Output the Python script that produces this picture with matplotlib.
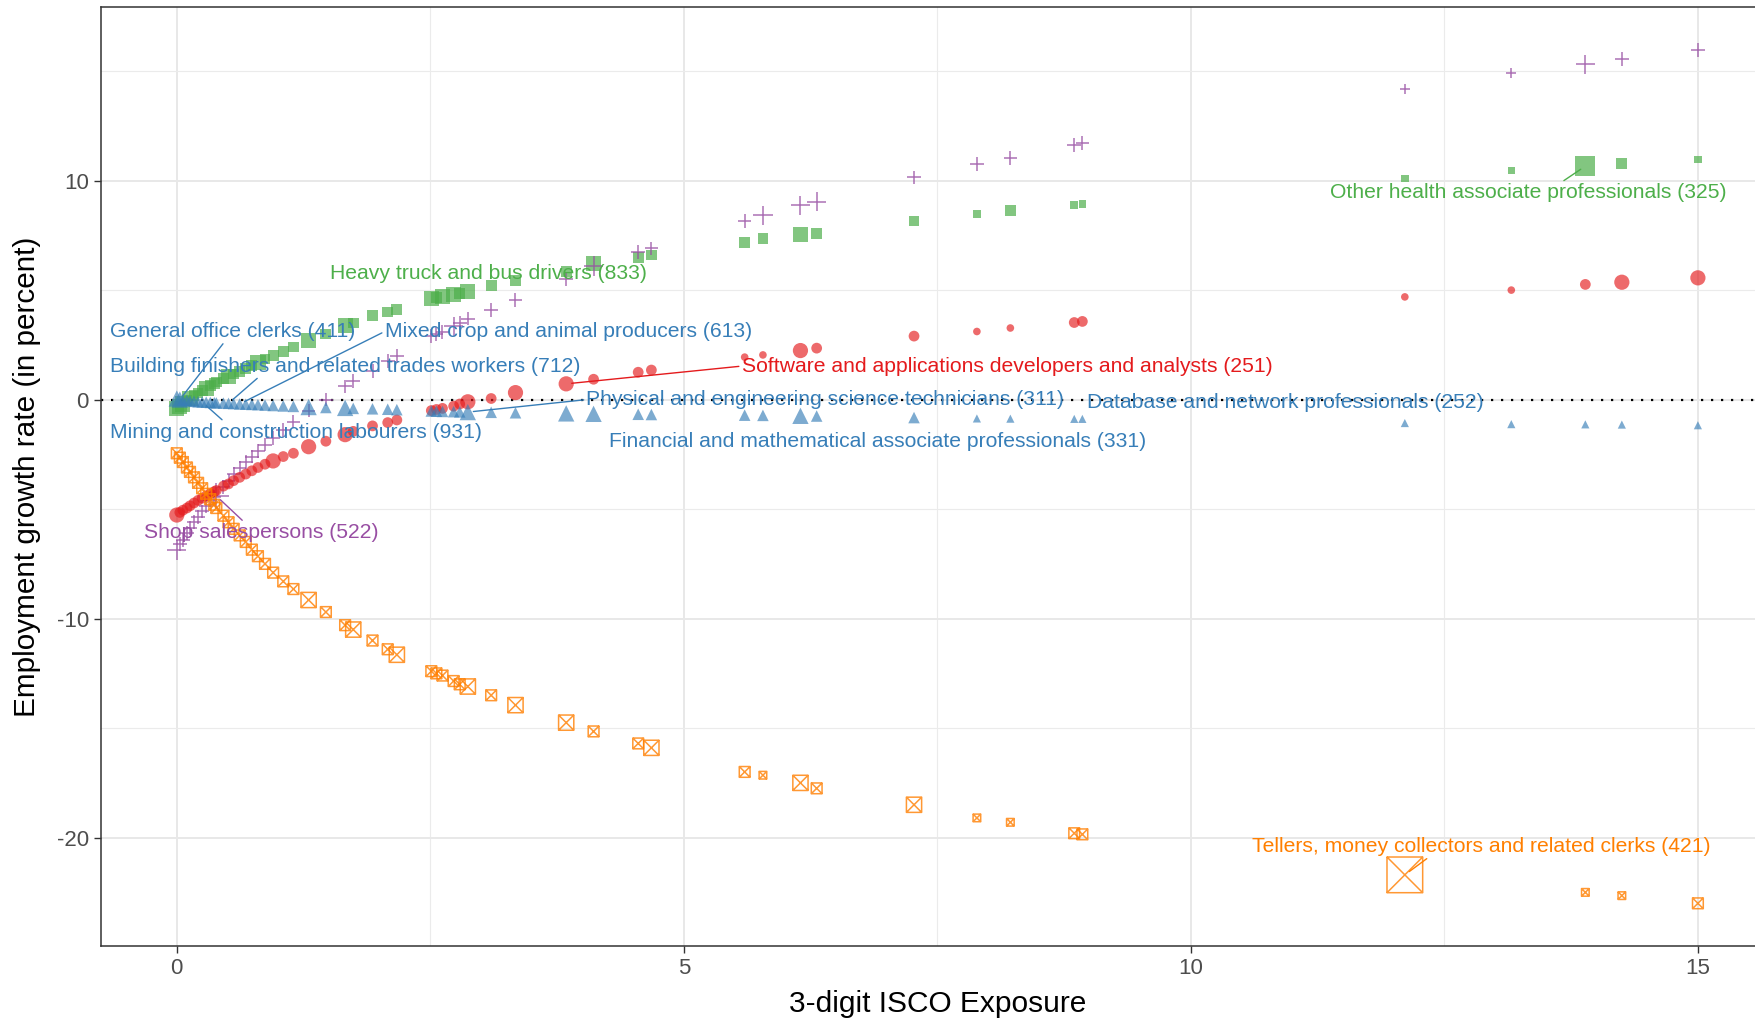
import numpy as np
import matplotlib
matplotlib.use("Agg")
import matplotlib.pyplot as plt
from matplotlib.path import Path
from matplotlib.ticker import MultipleLocator

plt.rcParams["font.family"] = ["Liberation Sans", "DejaVu Sans"]
plt.rcParams["axes.unicode_minus"] = False

GREEN = "#4DAF4A"
PURPLE = "#984EA3"
RED = "#E41A1C"
BLUE = "#377EB8"
ORANGE = "#FF7F00"

# --- data: occupation exposure (shared) and growth per scenario ---
exposure = [0.0, 0.03, 0.06, 0.1, 0.13, 0.17, 0.21, 0.25, 0.29, 0.33, 0.37, 0.39,
            0.46, 0.51, 0.56, 0.62, 0.68, 0.74, 0.8, 0.87, 0.95, 1.05, 1.15, 1.30,
            1.47, 1.66, 1.74, 1.93, 2.08, 2.17, 2.51, 2.56, 2.62, 2.73, 2.79, 2.87,
            3.10, 3.34, 3.84, 4.11, 4.55, 4.68, 5.60, 5.78, 6.15, 6.31, 7.27, 7.89,
            8.22, 8.85, 8.93, 12.11, 13.16, 13.89, 14.25, 15.0]

growth_green = [-0.4, -0.3, -0.2, -0.05, 0.05, 0.2, 0.3, 0.42, 0.52, 0.65, 0.75, 0.8,
                0.97, 1.07, 1.17, 1.3, 1.43, 1.55, 1.68, 1.85, 2.0, 2.2, 2.4, 2.7,
                3.0, 3.4, 3.5, 3.85, 4.0, 4.1, 4.6, 4.65, 4.7, 4.8, 4.85, 4.93,
                5.2, 5.45, 5.85, 6.2, 6.5, 6.6, 7.19, 7.35, 7.55, 7.6, 8.16, 8.47,
                8.62, 8.88, 8.93, 10.1, 10.46, 10.66, 10.77, 10.97]
growth_purple = [-6.87, -6.6, -6.4, -6.1, -5.85, -5.6, -5.35, -5.1, -4.85, -4.6, -4.45, -4.4,
                 -4.0, -3.7, -3.4, -3.1, -2.85, -2.6, -2.35, -2.05, -1.75, -1.4, -1.0, -0.5,
                 0.0, 0.6, 0.85, 1.3, 1.75, 2.0, 2.9, 3.0, 3.1, 3.35, 3.5, 3.7,
                 4.1, 4.55, 5.5, 6.1, 6.75, 6.9, 8.16, 8.42, 8.88, 9.03, 10.15, 10.77,
                 11.02, 11.63, 11.73, 14.18, 14.9, 15.31, 15.56, 15.97]
growth_red = [-5.27, -5.15, -5.05, -4.95, -4.85, -4.72, -4.6, -4.5, -4.4, -4.3, -4.2, -4.15,
              -3.95, -3.85, -3.7, -3.55, -3.4, -3.25, -3.1, -2.95, -2.8, -2.6, -2.45, -2.15,
              -1.9, -1.6, -1.45, -1.2, -1.05, -0.93, -0.5, -0.45, -0.4, -0.3, -0.2, -0.1,
              0.05, 0.32, 0.72, 0.93, 1.25, 1.35, 1.94, 2.04, 2.24, 2.35, 2.9, 3.11,
              3.27, 3.52, 3.57, 4.69, 5.0, 5.26, 5.36, 5.56]
growth_blue = [0.05, 0.0, -0.02, -0.04, -0.06, -0.08, -0.1, -0.11, -0.12, -0.13, -0.14, -0.15,
               -0.16, -0.17, -0.18, -0.2, -0.21, -0.22, -0.23, -0.25, -0.27, -0.29, -0.31, -0.34,
               -0.36, -0.38, -0.4, -0.42, -0.44, -0.46, -0.52, -0.53, -0.54, -0.55, -0.56, -0.57,
               -0.58, -0.6, -0.63, -0.65, -0.67, -0.68, -0.71, -0.72, -0.74, -0.75, -0.82, -0.86,
               -0.87, -0.88, -0.88, -1.07, -1.12, -1.13, -1.14, -1.17]
growth_orange = [-2.45, -2.65, -2.85, -3.1, -3.3, -3.55, -3.8, -4.05, -4.3, -4.55, -4.8, -4.95,
                 -5.3, -5.6, -5.9, -6.2, -6.5, -6.85, -7.15, -7.5, -7.9, -8.3, -8.65, -9.15,
                 -9.7, -10.3, -10.5, -11.0, -11.4, -11.65, -12.4, -12.5, -12.6, -12.85, -13.0, -13.1,
                 -13.5, -13.95, -14.75, -15.15, -15.7, -15.9, -17.0, -17.15, -17.5, -17.75, -18.5, -19.1,
                 -19.3, -19.8, -19.85, -21.7, np.nan, -22.5, -22.65, -23.0]

# employment weights (mapped to marker area)
weight_green = [4, 4, 4, 2, 4, 2, 2, 2, 4, 2, 2, 2, 2, 4, 2, 2, 2, 2, 4, 2, 2, 2, 2, 4,
                2, 4, 2, 2, 2, 2, 4, 2, 4, 4, 2, 4, 2, 2, 2, 4, 2, 2, 2, 2, 4, 2,
                2, 1, 2, 1, 1, 1, 1, 7, 2, 1]
weight_purple = [4, 2, 2, 2, 2, 2, 2, 2, 2, 2, 2, 7, 2, 2, 2, 2, 2, 2, 2, 2, 2, 2, 2, 2,
                 2, 2, 2, 2, 2, 2, 2, 2, 2, 4, 2, 2, 2, 2, 2, 4, 2, 2, 2, 4, 4, 4,
                 2, 2, 2, 2, 2, 1, 1, 4, 2, 2]
weight_red = [4, 2, 2, 2, 2, 2, 2, 2, 2, 2, 2, 2, 2, 2, 2, 2, 2, 2, 2, 2, 4, 2, 2, 4,
              2, 4, 2, 2, 2, 2, 2, 2, 2, 2, 2, 4, 2, 4, 4, 2, 2, 2, 1, 1, 4, 2,
              2, 1, 1, 2, 2, 1, 1, 2, 4, 4]
weight_blue = [4, 4, 2, 2, 2, 2, 2, 2, 2, 2, 2, 2, 2, 2, 2, 2, 2, 2, 2, 2, 2, 2, 2, 4,
               2, 4, 2, 2, 2, 2, 2, 2, 2, 2, 2, 4, 2, 2, 4, 4, 2, 2, 2, 2, 4, 2,
               2, 1, 1, 1, 1, 1, 1, 1, 1, 1]
weight_orange = [2, 2, 2, 2, 2, 2, 2, 2, 2, 2, 2, 2, 2, 2, 2, 2, 2, 2, 2, 2, 2, 2, 2, 4,
                 2, 2, 4, 2, 2, 4, 2, 2, 2, 2, 2, 4, 2, 4, 4, 2, 2, 4, 2, 1, 4, 2,
                 4, 1, 1, 2, 2, 22, 1, 1, 1, 2]

# labelled occupations: (text, series, point index, text x, text y, line start on text box)
labels = [
    ("Heavy truck and bus drivers (833)", "green", 39, 1.51, 5.77, None),
    ("General office clerks (411)", "blue", 1, -0.66, 3.11, (0.47, 0)),
    ("Mixed crop and animal producers (613)", "blue", 15, 2.05, 3.11, (0, 0.5)),
    ("Building finishers and related trades workers (712)", "blue", 13, -0.66, 1.53, (0.32, 0)),
    ("Mining and construction labourers (931)", "blue", 7, -0.66, -1.48, (0.31, 1)),
    ("Shop salespersons (522)", "purple", 11, -0.32, -6.07, (0.43, 1)),
    ("Software and applications developers and analysts (251)", "red", 38, 5.57, 1.53, (0, 0.5)),
    ("Physical and engineering science technicians (311)", "blue", 35, 4.04, 0.0, (0, 0.5)),
    ("Database and network professionals (252)", "blue", 50, 8.98, -0.15, None),
    ("Financial and mathematical associate professionals (331)", "blue", 44, 4.26, -1.89, None),
    ("Other health associate professionals (325)", "green", 53, 11.37, 9.44, (0.58, 1)),
    ("Tellers, money collectors and related clerks (421)", "orange", 51, 10.6, -20.4, (0.39, 0)),
]

# square with a cross (ggplot shape 7)
box_x = Path([(-1, -1), (1, -1), (1, 1), (-1, 1), (-1, -1), (-1, -1), (1, 1), (-1, 1), (1, -1)],
             [Path.MOVETO, Path.LINETO, Path.LINETO, Path.LINETO, Path.CLOSEPOLY,
              Path.MOVETO, Path.LINETO, Path.MOVETO, Path.LINETO])

series = {
    "green": (growth_green, weight_green, GREEN),
    "purple": (growth_purple, weight_purple, PURPLE),
    "red": (growth_red, weight_red, RED),
    "blue": (growth_blue, weight_blue, BLUE),
    "orange": (growth_orange, weight_orange, ORANGE),
}

SCALE = 30
LABEL_SIZE = 15.25

fig = plt.figure(figsize=(17.55, 10.18), dpi=100)
ax = fig.add_axes([0.0574, 0.0707, 0.9534, 0.9227])

x = np.array(exposure)
ax.axhline(0, color="black", lw=1.6, ls=(0, (1, 3.5)), zorder=1)

ax.scatter(x, growth_green, s=np.array(weight_green) * SCALE, marker="s",
           color=GREEN, alpha=0.7, linewidths=0, zorder=3)
ax.scatter(x, growth_purple, s=np.array(weight_purple) * SCALE * 1.6, marker="+",
           color=PURPLE, alpha=0.8, linewidths=1.1, zorder=3)
ax.scatter(x, growth_red, s=np.array(weight_red) * SCALE, marker="o",
           color=RED, alpha=0.65, linewidths=0, zorder=3)
ax.scatter(x, growth_blue, s=np.array(weight_blue) * SCALE * 1.15, marker="^",
           color=BLUE, alpha=0.65, linewidths=0, zorder=3)
ax.scatter(x, growth_orange, s=np.array(weight_orange) * SCALE, marker=box_x,
           facecolors="none", edgecolors=ORANGE, alpha=0.8, linewidths=1.1, zorder=3)

for text, key, idx, tx, ty, rel in labels:
    ys, _, col = series[key]
    if rel is None:
        ax.text(tx, ty, text, color=col, fontsize=LABEL_SIZE, ha="left", va="center", zorder=5)
    else:
        ax.annotate(text, xy=(exposure[idx], ys[idx]), xytext=(tx, ty),
                    color=col, fontsize=LABEL_SIZE, ha="left", va="center", zorder=5,
                    arrowprops=dict(arrowstyle="-", color=col, lw=1.0,
                                    relpos=rel, shrinkA=0, shrinkB=4))

ax.set_xlim(-0.75, 15.75)
ax.set_ylim(-24.95, 17.94)
ax.xaxis.set_major_locator(MultipleLocator(5))
ax.xaxis.set_minor_locator(MultipleLocator(2.5))
ax.yaxis.set_major_locator(MultipleLocator(10))
ax.yaxis.set_minor_locator(MultipleLocator(5))
ax.grid(which="major", color="#e8e8e8", lw=1.4, zorder=0)
ax.grid(which="minor", color="#ebebeb", lw=0.8, zorder=0)
ax.set_axisbelow(True)
ax.tick_params(which="major", direction="out", length=5, width=1, color="#333333",
               labelsize=16, labelcolor="#4D4D4D")
ax.tick_params(which="minor", length=0)
for sp in ax.spines.values():
    sp.set_color("#333333")
    sp.set_linewidth(1.1)

ax.set_xlabel("3-digit ISCO Exposure", fontsize=21.5)
ax.set_ylabel("Employment growth rate (in percent)", fontsize=21.4)
ax.yaxis.set_label_coords(-0.0357, 0.5)
ax.xaxis.set_label_coords(0.5, -0.047)

fig.savefig("out.png", dpi=100, facecolor="white")
